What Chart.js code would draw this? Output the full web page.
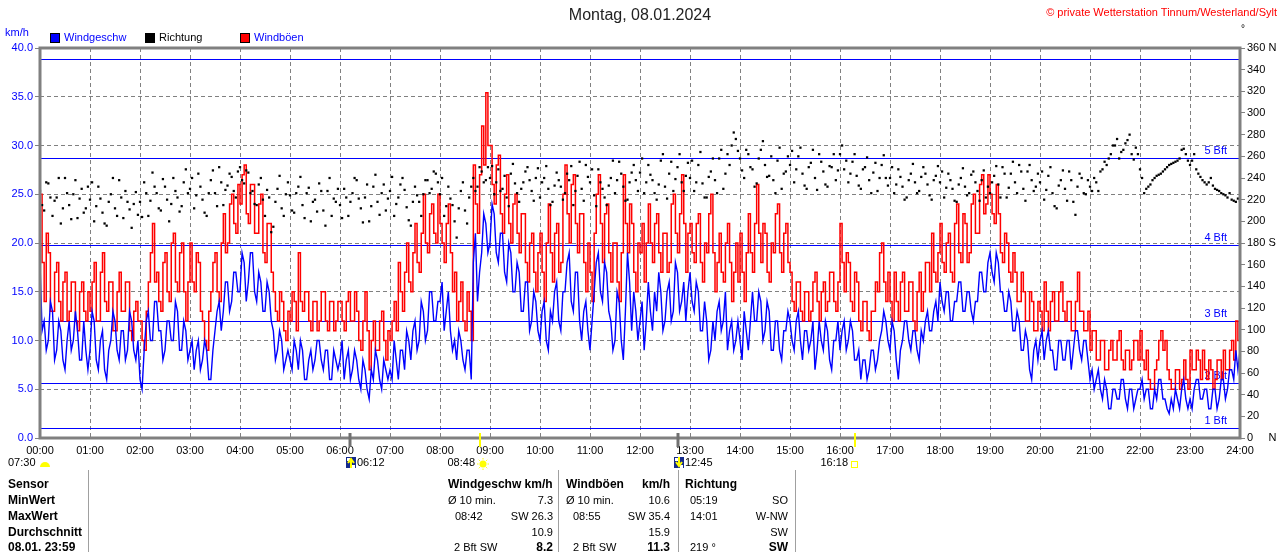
<!DOCTYPE html>
<html>
<head>
<meta charset="utf-8">
<script src="https://cdn.jsdelivr.net/npm/chart.js@4.4.1/dist/chart.umd.min.js"></script>
<style>
body { margin: 0; background: #fff; font-family: "Liberation Sans", Arial, sans-serif; }
#wrap { position: relative; width: 1280px; height: 552px; overflow: hidden; }
#chart { position: absolute; left: 0; top: 0; }
.t { position: absolute; white-space: nowrap; font-size: 11px; line-height: 13px; color: #000; }
.b { font-weight: bold; font-size: 12px; }
.vl { position: absolute; width: 1px; background: #a0a0a0; top: 470px; height: 82px; }
.sq { position: absolute; width: 10px; height: 10px; box-sizing: border-box; border: 1px solid #000; top: 33px; }
</style>
</head>
<body>
<div id="wrap">
  <canvas id="chart" width="1280" height="475"></canvas>

  <div class="t" style="left:0;width:1280px;text-align:center;top:6px;font-size:16px;line-height:18px;color:#222">Montag, 08.01.2024</div>
  <div class="t" style="right:3px;top:6px;color:#ff0000">© private Wetterstation Tinnum/Westerland/Sylt</div>
  <div class="t" style="left:1241px;top:22px;font-size:10px">°</div>

  <div class="t" style="left:5px;top:26px;color:#0000ff">km/h</div>
  <div class="sq" style="left:50px;background:#0000ff"></div>
  <div class="t" style="left:64px;top:31px;color:#0000ff">Windgeschw</div>
  <div class="sq" style="left:145px;background:#000"></div>
  <div class="t" style="left:159px;top:31px">Richtung</div>
  <div class="sq" style="left:240px;background:#ff0000"></div>
  <div class="t" style="left:254px;top:31px;color:#0000ff">Windböen</div>

  <div class="vl" style="left:88px"></div>
  <div class="vl" style="left:558px"></div>
  <div class="vl" style="left:678px"></div>
  <div class="vl" style="left:795px"></div>

  <div class="t b" style="left:8px;top:478px">Sensor</div>
  <div class="t b" style="left:8px;top:494px">MinWert</div>
  <div class="t b" style="left:8px;top:510px">MaxWert</div>
  <div class="t b" style="left:8px;top:526px">Durchschnitt</div>
  <div class="t b" style="left:8px;top:541px">08.01. 23:59</div>

  <div class="t b" style="left:448px;top:478px">Windgeschw km/h</div>
  <div class="t" style="left:448px;top:494px">Ø 10 min.</div>
  <div class="t" style="right:727px;top:494px">7.3</div>
  <div class="t" style="left:455px;top:510px">08:42</div>
  <div class="t" style="right:727px;top:510px">SW 26.3</div>
  <div class="t" style="right:727px;top:526px">10.9</div>
  <div class="t" style="left:454px;top:541px">2 Bft SW</div>
  <div class="t b" style="right:727px;top:541px">8.2</div>

  <div class="t b" style="left:566px;top:478px">Windböen</div>
  <div class="t b" style="right:610px;top:478px">km/h</div>
  <div class="t" style="left:566px;top:494px">Ø 10 min.</div>
  <div class="t" style="right:610px;top:494px">10.6</div>
  <div class="t" style="left:573px;top:510px">08:55</div>
  <div class="t" style="right:610px;top:510px">SW 35.4</div>
  <div class="t" style="right:610px;top:526px">15.9</div>
  <div class="t" style="left:573px;top:541px">2 Bft SW</div>
  <div class="t b" style="right:610px;top:541px">11.3</div>

  <div class="t b" style="left:685px;top:478px">Richtung</div>
  <div class="t" style="left:690px;top:494px">05:19</div>
  <div class="t" style="right:492px;top:494px">SO</div>
  <div class="t" style="left:690px;top:510px">14:01</div>
  <div class="t" style="right:492px;top:510px">W-NW</div>
  <div class="t" style="right:492px;top:526px">SW</div>
  <div class="t" style="left:690px;top:541px">219 °</div>
  <div class="t b" style="right:492px;top:541px">SW</div>
</div>

<script>
// samples every 2.5 minutes from 00:00 to 24:00 (one row per hour)
const stepMinutes = 2.5;

const windSpeed = [
  18, 11, 12, 9, 10, 14, 13, 8, 9, 12, 11, 8, 7, 10, 12, 9, 10, 13, 11, 8, 8, 12, 9, 7,
  9, 13, 12, 8, 7, 10, 11, 7, 6, 9, 10, 13, 12, 9, 8, 11, 11, 8, 9, 13, 12, 9, 8, 10,
  6, 5, 9, 12, 13, 10, 10, 14, 14, 11, 11, 8, 9, 12, 12, 10, 10, 14, 13, 9, 9, 12, 11, 8,
  9, 10, 7, 9, 10, 7, 8, 10, 9, 6, 6, 9, 11, 13, 14, 11, 13, 16, 16, 13, 14, 17, 17, 15,
  15, 19, 18, 14, 16, 19, 19, 15, 14, 17, 16, 13, 13, 16, 15, 12, 11, 8, 9, 11, 10, 7, 8, 9,
  8, 7, 10, 9, 7, 10, 9, 6, 6, 8, 9, 7, 8, 10, 10, 8, 7, 9, 9, 6, 6, 9, 8, 7,
  8, 10, 6, 8, 9, 6, 7, 9, 8, 6, 5, 8, 7, 5, 4, 7, 6, 9, 8, 6, 5, 8, 7, 6,
  7, 6, 10, 8, 6, 9, 9, 7, 11, 10, 8, 11, 12, 9, 10, 14, 13, 10, 11, 15, 15, 12, 12, 14,
  14, 16, 11, 13, 15, 11, 9, 10, 8, 11, 10, 8, 7, 9, 9, 6, 18, 21, 14, 17, 19, 23, 22, 19,
  20, 24, 23, 19, 18, 21, 21, 17, 16, 20, 19, 15, 15, 18, 17, 13, 13, 16, 16, 11, 12, 15, 14, 11,
  10, 13, 14, 10, 9, 13, 12, 15, 16, 12, 11, 15, 15, 18, 19, 14, 13, 17, 17, 12, 10, 13, 14, 11,
  9, 12, 15, 18, 19, 15, 14, 18, 17, 13, 12, 9, 10, 15, 14, 10, 8, 13, 19, 16, 11, 15, 13, 10,
  12, 14, 9, 12, 16, 13, 11, 15, 13, 17, 15, 11, 12, 15, 16, 12, 13, 18, 17, 13, 14, 16, 12, 15,
  17, 14, 13, 16, 15, 11, 11, 14, 12, 8, 9, 12, 10, 13, 14, 11, 12, 15, 9, 11, 12, 9, 10, 12,
  10, 8, 13, 11, 9, 12, 15, 12, 12, 15, 14, 10, 11, 14, 13, 9, 9, 12, 12, 9, 8, 11, 11, 13,
  12, 10, 9, 12, 13, 10, 8, 11, 11, 9, 10, 12, 7, 9, 12, 10, 9, 12, 11, 8, 7, 10, 10, 12,
  9, 11, 12, 9, 10, 12, 11, 8, 8, 9, 6, 8, 8, 6, 7, 9, 9, 7, 8, 10, 11, 13, 12, 10,
  9, 12, 11, 8, 6, 9, 10, 12, 12, 10, 9, 11, 11, 9, 8, 11, 10, 12, 13, 11, 11, 13, 14, 12,
  16, 14, 13, 15, 15, 12, 12, 14, 14, 16, 16, 13, 13, 15, 15, 13, 12, 14, 14, 17, 17, 15, 15, 18,
  19, 17, 16, 19, 18, 15, 15, 13, 13, 15, 14, 11, 11, 13, 12, 9, 9, 11, 10, 7, 6, 9, 10, 8,
  10, 11, 8, 10, 11, 9, 9, 7, 7, 10, 10, 8, 8, 10, 10, 7, 9, 11, 11, 9, 8, 10, 10, 8,
  6, 7, 5, 6, 7, 5, 4, 6, 5, 3, 3, 5, 5, 4, 4, 6, 6, 4, 3, 5, 5, 3, 4, 5,
  5, 6, 4, 5, 5, 3, 3, 5, 4, 6, 6, 4, 4, 3, 2.5, 4, 3, 5, 4, 3, 5, 6, 4, 3,
  4, 3, 5, 6, 6, 4, 4, 5, 5, 3, 3, 5, 5, 3, 4, 6, 6, 4, 5, 7, 7, 6, 9, 7,
  9
];

const windGust = [
  25, 18, 14, 21, 19, 13, 13, 17, 18, 14, 12, 16, 17, 12, 13, 16, 16, 12, 11, 15, 16, 13, 12, 15,
  13, 16, 18, 12, 12, 17, 19, 14, 13, 16, 16, 11, 11, 15, 17, 13, 13, 16, 16, 11, 10, 13, 14, 12,
  12, 10, 9, 13, 16, 19, 22, 16, 17, 14, 13, 18, 19, 15, 14, 20, 21, 16, 15, 19, 20, 15, 12, 16,
  20, 16, 15, 19, 18, 13, 12, 10, 9, 13, 15, 18, 19, 15, 14, 20, 23, 19, 20, 24, 25, 22, 21, 26,
  24, 27, 28, 23, 22, 26, 26, 21, 21, 24, 25, 19, 18, 22, 22, 17, 15, 13, 12, 15, 14, 11, 10, 13,
  12, 15, 14, 11, 19, 14, 13, 15, 15, 12, 11, 14, 14, 11, 12, 15, 15, 12, 11, 14, 14, 11, 12, 14,
  14, 12, 11, 14, 15, 12, 12, 15, 13, 10, 9, 12, 15, 11, 7, 10, 12, 9, 9, 12, 13, 10, 8, 11,
  10, 12, 14, 11, 18, 15, 13, 17, 20, 16, 15, 19, 22, 18, 17, 21, 25, 20, 19, 23, 24, 21, 20, 25,
  22, 20, 18, 22, 24, 19, 15, 17, 12, 14, 16, 12, 11, 15, 13, 10, 28, 24, 21, 27, 32, 28, 35.4, 30,
  30, 26, 24, 28, 29, 23, 21, 25, 27, 22, 20, 24, 25, 21, 19, 23, 23, 18, 16, 20, 21, 17, 15, 19,
  21, 17, 14, 20, 24, 19, 16, 21, 22, 17, 18, 25, 28, 23, 20, 26, 27, 22, 19, 23, 23, 18, 15, 20,
  17, 14, 21, 25, 27, 22, 18, 23, 24, 19, 16, 20, 20, 16, 14, 19, 27, 22, 19, 24, 22, 17, 15, 20,
  19, 22, 16, 20, 24, 20, 18, 22, 23, 19, 17, 21, 21, 17, 18, 24, 25, 21, 19, 23, 27, 22, 17, 21,
  22, 19, 18, 22, 23, 18, 16, 20, 19, 23, 25, 19, 15, 18, 21, 17, 16, 20, 22, 18, 14, 17, 20, 16,
  21, 17, 14, 19, 23, 19, 17, 22, 26, 21, 18, 22, 21, 17, 16, 20, 19, 23, 24, 19, 17, 21, 22, 18,
  17, 14, 13, 16, 16, 13, 12, 15, 15, 12, 13, 16, 17, 14, 12, 15, 16, 13, 14, 17, 17, 14, 13, 16,
  22, 18, 15, 19, 18, 14, 13, 17, 16, 12, 11, 14, 14, 11, 10, 13, 13, 16, 15, 19, 20, 16, 14, 17,
  14, 12, 17, 14, 12, 16, 17, 13, 13, 16, 16, 12, 11, 15, 17, 13, 15, 18, 18, 15, 21, 17, 16, 19,
  22, 18, 17, 20, 21, 17, 16, 22, 24, 19, 18, 23, 22, 18, 19, 24, 25, 21, 21, 26, 27, 23, 24, 27,
  25, 23, 22, 26, 23, 19, 18, 21, 20, 17, 16, 19, 17, 14, 14, 17, 15, 12, 12, 15, 14, 11, 11, 14,
  13, 11, 16, 13, 11, 14, 15, 12, 12, 15, 16, 13, 12, 14, 14, 11, 11, 14, 17, 13, 13, 11, 11, 13,
  9, 11, 11, 8, 8, 10, 10, 7, 7, 9, 10, 8, 8, 10, 11, 8, 7, 9, 9, 7, 8, 10, 10, 8,
  11, 8, 7, 9, 6, 5, 5, 7, 8, 10, 11, 9, 10, 7, 6, 5, 5, 7, 7, 5, 6, 8, 6, 5,
  9, 7, 7, 9, 8, 6, 9, 7, 6, 8, 7, 5, 6, 8, 8, 6, 9, 7, 7, 9, 10, 8, 12, 10,
  13
];

const windDir = [
  228, 215, 210, 236, 235, 222, 205, 219, 222, 240, 198, 212, 240, 226, 215, 202, 225, 238, 203, 221, 230, 208, 212, 232,
  220, 236, 200, 214, 232, 221, 208, 198, 196, 218, 225, 240, 212, 205, 238, 222, 203, 228, 218, 211, 194, 216, 227, 206,
  218, 204, 236, 226, 205, 219, 245, 232, 226, 212, 210, 239, 232, 220, 200, 216, 240, 228, 222, 209, 214, 236, 248, 226,
  230, 240, 212, 224, 244, 232, 220, 208, 205, 226, 238, 247, 226, 214, 250, 236, 215, 229, 233, 244, 241, 228, 222, 246,
  250, 238, 235, 247, 245, 226, 228, 216, 215, 234, 240, 220, 205, 229, 222, 190, 195, 218, 230, 242, 212, 205, 225, 236,
  224, 210, 208, 226, 232, 241, 215, 203, 226, 231, 200, 218, 220, 209, 235, 228, 210, 196, 228, 240, 205, 221, 218, 230,
  215, 203, 230, 222, 205, 218, 226, 240, 238, 221, 212, 199, 222, 234, 200, 214, 232, 243, 218, 206, 226, 234, 210, 221,
  228, 241, 205, 216, 222, 234, 240, 229, 213, 201, 196, 218, 232, 224, 218, 205, 225, 238, 238, 226, 230, 246, 244, 236,
  225, 240, 205, 214, 232, 221, 215, 200, 185, 212, 228, 236, 210, 198, 222, 232, 240, 228, 232, 250, 246, 236, 238, 250,
  240, 251, 225, 236, 248, 228, 230, 242, 222, 214, 244, 253, 235, 226, 218, 230, 236, 246, 250, 238, 228, 219, 240, 249,
  222, 236, 240, 251, 230, 215, 218, 233, 245, 238, 232, 220, 226, 244, 238, 251, 215, 228, 242, 255, 230, 219, 252, 241,
  236, 248, 224, 214, 248, 236, 230, 222, 215, 233, 240, 256, 226, 238, 255, 244, 232, 219, 220, 236, 245, 252, 238, 228,
  245, 258, 226, 236, 252, 243, 238, 226, 220, 234, 256, 262, 232, 221, 244, 255, 228, 239, 250, 262, 236, 228, 242, 254,
  240, 256, 228, 236, 252, 264, 235, 222, 222, 241, 246, 258, 238, 226, 258, 266, 230, 244, 262, 252, 270, 282, 276, 265,
  258, 247, 240, 266, 262, 250, 248, 232, 235, 258, 266, 274, 252, 241, 242, 260, 238, 226, 256, 268, 230, 244, 246, 260,
  252, 265, 236, 248, 260, 268, 244, 233, 230, 250, 254, 266, 240, 229, 262, 255, 246, 234, 232, 251, 250, 262, 238, 247,
  262, 270, 248, 256, 236, 244, 255, 262, 242, 233, 230, 248, 250, 259, 238, 226, 245, 254, 228, 240, 252, 261, 240, 233,
  240, 250, 226, 234, 248, 241, 232, 220, 222, 238, 244, 253, 236, 226, 228, 241, 250, 244, 234, 224, 220, 238, 242, 251,
  236, 246, 222, 231, 244, 238, 230, 219, 218, 234, 240, 249, 232, 224, 226, 243, 246, 236, 228, 219, 238, 247, 222, 232,
  226, 236, 242, 251, 234, 222, 250, 244, 222, 231, 244, 255, 236, 226, 252, 246, 230, 219, 246, 252, 238, 228, 232, 244,
  236, 246, 220, 229, 242, 250, 226, 214, 212, 233, 238, 247, 230, 219, 246, 238, 218, 206, 232, 244, 240, 226, 225, 238,
  232, 228, 240, 236, 228, 246, 248, 255, 252, 258, 262, 270, 270, 276, 258, 264, 266, 272, 275, 280, 262, 257, 268, 262,
  248, 240, 226, 230, 232, 234, 238, 240, 242, 243, 244, 246, 248, 250, 252, 253, 254, 255, 256, 258, 266, 267, 262, 256,
  252, 256, 262, 248, 244, 241, 238, 236, 234, 236, 240, 233, 230, 229, 228, 226, 225, 224, 222, 226, 220, 219, 218, 221,
  219
];

// Beaufort limits (km/h) drawn as horizontal lines
const bftLimits = [1, 5.6, 12, 19.8, 28.7, 38.9];
const bftLabels = ['1 Bft', '2 Bft', '3 Bft', '4 Bft', '5 Bft', ''];

// sun / moon events under the time axis
const eventTimes = ['06:12', '08:48', '12:45', '16:18'];
const eventKinds = ['moonrise', 'sunrise', 'moonset', 'sunset'];
const dawnLabel = '07:30';

const toMin = s => { const p = s.split(':'); return +p[0] * 60 + +p[1]; };
const pts = arr => arr.map((v, i) => ({ x: i * stepMinutes, y: v }));

const FONT = '"Liberation Sans", Arial, sans-serif';
Chart.defaults.font.family = FONT;
Chart.defaults.font.size = 11;

const decor = {
  id: 'decor',
  beforeDatasetsDraw(chart) {
    const { ctx, chartArea: a, scales: { y } } = chart;
    ctx.save();
    ctx.strokeStyle = '#0000ff';
    ctx.lineWidth = 1;
    ctx.fillStyle = '#0000ff';
    ctx.font = '11px ' + FONT;
    ctx.textAlign = 'right';
    ctx.textBaseline = 'bottom';
    bftLimits.forEach((v, i) => {
      const py = Math.round(y.getPixelForValue(v)) + 0.5;
      ctx.beginPath();
      ctx.moveTo(a.left, py);
      ctx.lineTo(a.right, py);
      ctx.stroke();
      if (bftLabels[i]) ctx.fillText(bftLabels[i], a.right - 13, py - 2);
    });
    ctx.restore();
  },
  afterDatasetsDraw(chart) {
    const { ctx, chartArea: a } = chart;
    ctx.save();
    ctx.strokeStyle = '#808080';
    ctx.lineWidth = 3;
    ctx.strokeRect(a.left, a.top, a.right - a.left, a.bottom - a.top);
    ctx.restore();
  },
  afterDraw(chart) {
    const { ctx, chartArea: a, scales: { x } } = chart;
    const ty = a.bottom + 25;
    ctx.save();
    ctx.font = '11px ' + FONT;
    ctx.textBaseline = 'middle';
    ctx.fillStyle = '#000';
    // dawn
    ctx.textAlign = 'left';
    ctx.fillText(dawnLabel, 8, ty);
    ctx.fillStyle = '#ffff00';
    ctx.beginPath();
    ctx.arc(45, ty + 4, 5, Math.PI, 0);
    ctx.fill();

    eventTimes.forEach((t, i) => {
      const px = Math.round(x.getPixelForValue(toMin(t)));
      const kind = eventKinds[i];
      const moon = kind.startsWith('moon');
      ctx.strokeStyle = moon ? '#707070' : '#ffff00';
      ctx.lineWidth = moon ? 3 : 2;
      ctx.beginPath();
      ctx.moveTo(px, a.bottom - 5);
      ctx.lineTo(px, a.bottom + 9);
      ctx.stroke();
      ctx.fillStyle = '#000';
      if (moon) {
        ctx.fillStyle = '#142a8c';
        ctx.fillRect(px - 4, ty - 6, 10, 11);
        ctx.fillStyle = '#ffffff';
        ctx.fillRect(px - 3, ty - 5, 3, 3);
        ctx.fillRect(px + 2, ty + 2, 3, 3);
        ctx.strokeStyle = '#ffff00';
        ctx.lineWidth = 2;
        ctx.beginPath();
        if (kind === 'moonrise') {
          ctx.moveTo(px + 1, ty + 5); ctx.lineTo(px + 1, ty - 3);
          ctx.moveTo(px - 2, ty); ctx.lineTo(px + 1, ty - 4); ctx.lineTo(px + 4, ty);
        } else {
          ctx.moveTo(px + 1, ty - 6); ctx.lineTo(px + 1, ty + 2);
          ctx.moveTo(px - 2, ty - 1); ctx.lineTo(px + 1, ty + 3); ctx.lineTo(px + 4, ty - 1);
        }
        ctx.stroke();
        ctx.fillStyle = '#000';
        ctx.textAlign = 'left';
        ctx.fillText(t, px + 7, ty);
      } else if (kind === 'sunrise') {
        ctx.textAlign = 'right';
        ctx.fillText(t, px - 5, ty);
        ctx.fillStyle = '#ffff00';
        ctx.strokeStyle = '#ffff00';
        ctx.lineWidth = 1;
        ctx.beginPath();
        ctx.arc(px + 3, ty + 1, 3.5, 0, Math.PI * 2);
        ctx.fill();
        ctx.beginPath();
        for (let k = 0; k < 8; k++) {
          const ang = k * Math.PI / 4;
          ctx.moveTo(px + 3 + Math.cos(ang) * 4.5, ty + 1 + Math.sin(ang) * 4.5);
          ctx.lineTo(px + 3 + Math.cos(ang) * 6, ty + 1 + Math.sin(ang) * 6);
        }
        ctx.stroke();
      } else {
        ctx.textAlign = 'right';
        ctx.fillText(t, px - 7, ty);
        ctx.strokeStyle = '#ffff00';
        ctx.lineWidth = 1;
        ctx.strokeRect(px - 3.5, ty - 1.5, 6, 6);
      }
    });
    ctx.restore();
  }
};

new Chart(document.getElementById('chart').getContext('2d'), {
  type: 'line',
  data: {
    datasets: [
      {
        label: 'Richtung',
        data: pts(windDir),
        yAxisID: 'y1',
        showLine: false,
        pointStyle: 'rect',
        pointRadius: 1.6,
        pointBorderWidth: 0,
        pointBackgroundColor: '#000000',
        order: 0
      },
      {
        label: 'Windgeschw',
        data: pts(windSpeed),
        yAxisID: 'y',
        borderColor: '#0000ff',
        borderWidth: 1.4,
        pointRadius: 0,
        tension: 0,
        order: 1
      },
      {
        label: 'Windböen',
        data: pts(windGust),
        yAxisID: 'y',
        borderColor: '#ff0000',
        borderWidth: 1.5,
        pointRadius: 0,
        stepped: 'before',
        order: 2
      }
    ]
  },
  options: {
    responsive: false,
    animation: false,
    devicePixelRatio: 1,
    events: [],
    layout: { padding: { top: 48, bottom: 17, left: 0, right: 0 } },
    plugins: { legend: { display: false }, tooltip: { enabled: false } },
    scales: {
      x: {
        type: 'linear',
        min: 0,
        max: 1440,
        afterFit: s => { s.height = 20; },
        ticks: {
          stepSize: 60,
          autoSkip: false,
          maxRotation: 0,
          padding: 6,
          color: '#000',
          callback: v => String(v / 60).padStart(2, '0') + ':00'
        },
        grid: { color: '#808080', lineWidth: 1, drawTicks: false },
        border: { display: false, dash: [4, 3] }
      },
      y: {
        position: 'left',
        min: 0,
        max: 40,
        afterFit: s => { s.width = 40; },
        ticks: { stepSize: 5, padding: 2, color: '#0000ff', callback: v => v.toFixed(1) },
        grid: { color: '#808080', lineWidth: 1, tickLength: 5, tickColor: '#808080', tickBorderDash: [] },
        border: { display: false, dash: [4, 3] }
      },
      y1: {
        position: 'right',
        min: 0,
        max: 360,
        afterFit: s => { s.width = 40; },
        ticks: {
          stepSize: 20,
          padding: 2,
          color: '#000',
          callback: v => v === 360 ? '360 N' : v === 180 ? '180 S' : v === 0 ? '0     N' : String(v)
        },
        grid: { drawOnChartArea: false, tickLength: 5, tickColor: '#808080' },
        border: { display: false }
      }
    }
  },
  plugins: [decor]
});
</script>
</body>
</html>
